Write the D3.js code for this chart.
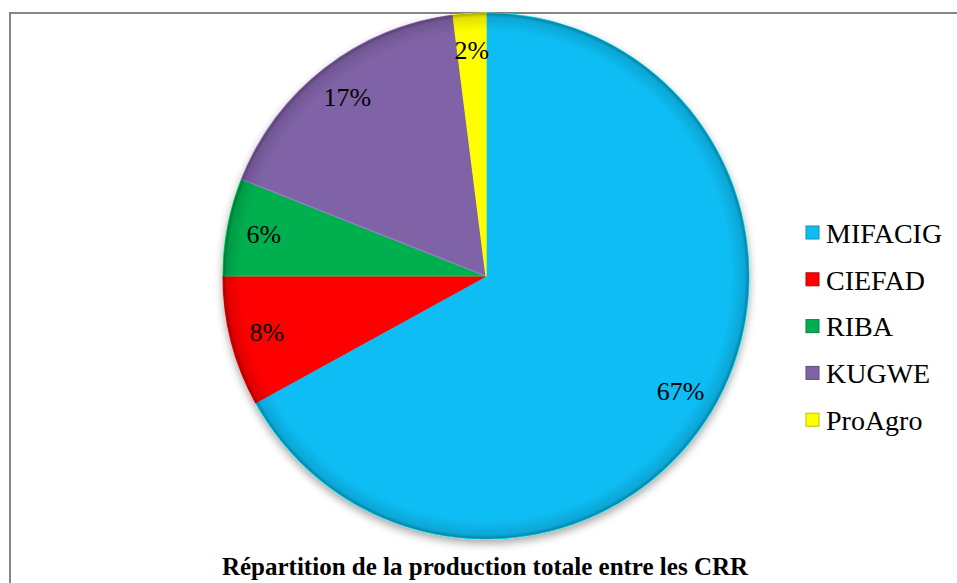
<!DOCTYPE html>
<html>
<head>
<meta charset="utf-8">
<script src="https://cdn.jsdelivr.net/npm/d3@7"></script>
<style>
  body { margin: 0; background: #fff; }
  svg { display: block; }
</style>
</head>
<body>
<div id="chart"></div>
<script>
var labels = ["MIFACIG", "CIEFAD", "RIBA", "KUGWE", "ProAgro"];
var values = [67, 8, 6, 17, 2];
var colors = ["#10bdf3", "#ff0000", "#00b050", "#8062a6", "#ffff00"];
var title = "Répartition de la production totale entre les CRR";

var svgwidth = 957,
    svgheight = 583,
    cx = 486, cy = 276, radius = 263;

var svg = d3.select("#chart").append("svg")
    .attr("width", svgwidth)
    .attr("height", svgheight);

var defs = svg.append("defs");

var shadow = defs.append("filter")
    .attr("id", "shadow")
    .attr("x", "-20%").attr("y", "-20%")
    .attr("width", "140%").attr("height", "140%");
shadow.append("feDropShadow")
    .attr("dx", 0).attr("dy", 4)
    .attr("stdDeviation", 4)
    .attr("flood-color", "#000")
    .attr("flood-opacity", 0.35);

// rim shading to fake the bevel
var rim = defs.append("radialGradient")
    .attr("id", "rim")
    .attr("cx", "50%").attr("cy", "50%").attr("r", "50%");
rim.append("stop").attr("offset", "0.93").attr("stop-color", "#000").attr("stop-opacity", 0);
rim.append("stop").attr("offset", "0.985").attr("stop-color", "#000").attr("stop-opacity", 0.12);
rim.append("stop").attr("offset", "1").attr("stop-color", "#000").attr("stop-opacity", 0.35);

// frame
svg.append("rect")
    .attr("x", 10).attr("y", 13)
    .attr("width", 980).attr("height", 600)
    .attr("fill", "none")
    .attr("stroke", "#868686")
    .attr("stroke-width", 2);

var data = labels.map(function(d, i) {
  return {label: d, value: values[i], color: colors[i]};
});

var pie = d3.pie()
    .sort(null)
    .value(function(d) { return d.value; });

var arc = d3.arc()
    .innerRadius(0)
    .outerRadius(radius);

var labelArc = d3.arc()
    .innerRadius(radius * 0.86)
    .outerRadius(radius * 0.86);

var arcs = pie(data);

var g = svg.append("g")
    .attr("transform", "translate(" + cx + "," + cy + ")");

g.append("g")
    .attr("filter", "url(#shadow)")
  .selectAll("path")
  .data(arcs)
  .enter().append("path")
    .attr("d", arc)
    .attr("fill", function(d) { return d.data.color; })
    .attr("stroke", function(d) { return d3.color(d.data.color).brighter(0.6); })
    .attr("stroke-width", 1.2)
    .attr("stroke-linejoin", "round");

g.append("circle")
    .attr("r", radius)
    .attr("fill", "url(#rim)")
    .attr("pointer-events", "none");

g.selectAll(".pct")
  .data(arcs)
  .enter().append("text")
    .attr("class", "pct")
    .attr("transform", function(d) { return "translate(" + labelArc.centroid(d) + ")"; })
    .attr("text-anchor", "middle")
    .attr("dy", "0.35em")
    .style("font", "26px 'Liberation Serif', 'Times New Roman', serif")
    .style("fill", "#000")
    .text(function(d) { return d.data.value + "%"; });

// legend
var legend = svg.append("g")
    .attr("transform", "translate(806,233)");

var item = legend.selectAll(".item")
  .data(data)
  .enter().append("g")
    .attr("class", "item")
    .attr("transform", function(d, i) { return "translate(0," + (i * 46.8) + ")"; });

item.append("rect")
    .attr("x", 0).attr("y", -7)
    .attr("width", 13).attr("height", 13)
    .attr("fill", function(d) { return d.color; })
    .attr("stroke", function(d) { return d3.color(d.color).darker(0.8); })
    .attr("stroke-width", 1);

item.append("text")
    .attr("x", 20)
    .attr("dy", "0.35em")
    .style("font", "28px 'Liberation Serif', 'Times New Roman', serif")
    .style("fill", "#000")
    .text(function(d) { return d.label; });

svg.append("text")
    .attr("x", 485).attr("y", 575)
    .attr("text-anchor", "middle")
    .style("font", "bold 25px 'Liberation Serif', 'Times New Roman', serif")
    .style("fill", "#000")
    .text(title);
</script>
</body>
</html>
